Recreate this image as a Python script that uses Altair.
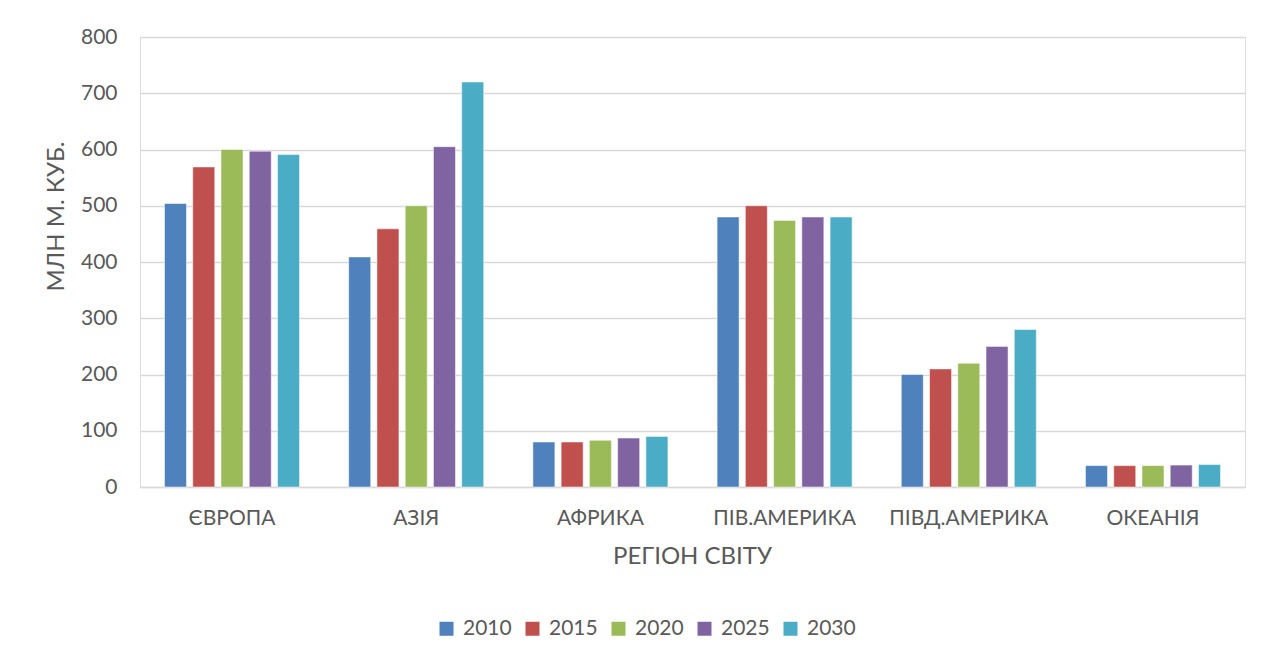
import altair as alt
import pandas as pd

regions = ["ЄВРОПА", "АЗІЯ", "АФРИКА", "ПІВ.АМЕРИКА", "ПІВД.АМЕРИКА", "ОКЕАНІЯ"]
years = ["2010", "2015", "2020", "2025", "2030"]
v2010 = [504, 409, 80, 480, 200, 38]
v2015 = [569, 459, 80, 500, 210, 38]
v2020 = [600, 500, 83, 474, 220, 38]
v2025 = [597, 605, 87, 480, 250, 39]
v2030 = [591, 720, 90, 480, 280, 40]
colors = ["#4F81BD", "#C0504D", "#9BBB59", "#8064A2", "#4BACC6"]
y_ticks = [0, 100, 200, 300, 400, 500, 600, 700, 800]

series = [v2010, v2015, v2020, v2025, v2030]
rows = []
for y, vals in zip(years, series):
    for r, v in zip(regions, vals):
        rows.append({"region": r, "year": y, "value": v})
df = pd.DataFrame(rows)

FONT = "Lato"
TXT = "#595959"
GRID = "#D9D9D9"

chart = alt.Chart(df).mark_bar(stroke="white", strokeOpacity=0.5, strokeWidth=1).encode(
    x=alt.X("region:N", sort=regions,
            scale=alt.Scale(paddingInner=0.267, paddingOuter=0.133),
            axis=alt.Axis(title="РЕГІОН СВІТУ", labelAngle=0, labelFontSize=21,
                          labelColor=TXT, labelFont=FONT, labelPadding=20,
                          ticks=False, domainColor=GRID, domainWidth=1.5,
                          titleFontSize=24, titleColor=TXT, titleFont=FONT,
                          titleFontWeight="normal", titleX=552, titleY=69,
                          titleBaseline="middle")),
    xOffset=alt.XOffset("year:N", sort=years,
                        scale=alt.Scale(paddingInner=0.221, paddingOuter=0)),
    y=alt.Y("value:Q", scale=alt.Scale(domain=[0, 800], nice=False),
            axis=alt.Axis(title="МЛН М. КУБ.", values=y_ticks, labelFontSize=21,
                          labelColor=TXT, labelFont=FONT, labelPadding=23,
                          ticks=False, domain=False, gridColor=GRID, gridWidth=1.5,
                          titleFontSize=24, titleColor=TXT, titleFont=FONT,
                          titleFontWeight="normal", titleX=-84, titleY=179,
                          titleAngle=270, titleAlign="center", titleBaseline="middle")),
    color=alt.Color("year:N", sort=years,
                    scale=alt.Scale(domain=years, range=colors),
                    legend=alt.Legend(title=None, orient="none", direction="horizontal",
                                      legendX=296, legendY=581, symbolType="square",
                                      symbolSize=196, symbolStrokeWidth=0,
                                      labelFontSize=21, labelFont=FONT, labelColor=TXT,
                                      labelOffset=6, labelLimit=0, columnPadding=10)),
).properties(
    width=1105,
    height=450,
    autosize=alt.AutoSizeParams(type="none"),
    padding={"left": 132, "top": 29, "right": 15, "bottom": 150},
).configure_view(stroke=None).configure(background="white")

chart.save("out.html", embed_options={"renderer": "svg", "actions": False})
